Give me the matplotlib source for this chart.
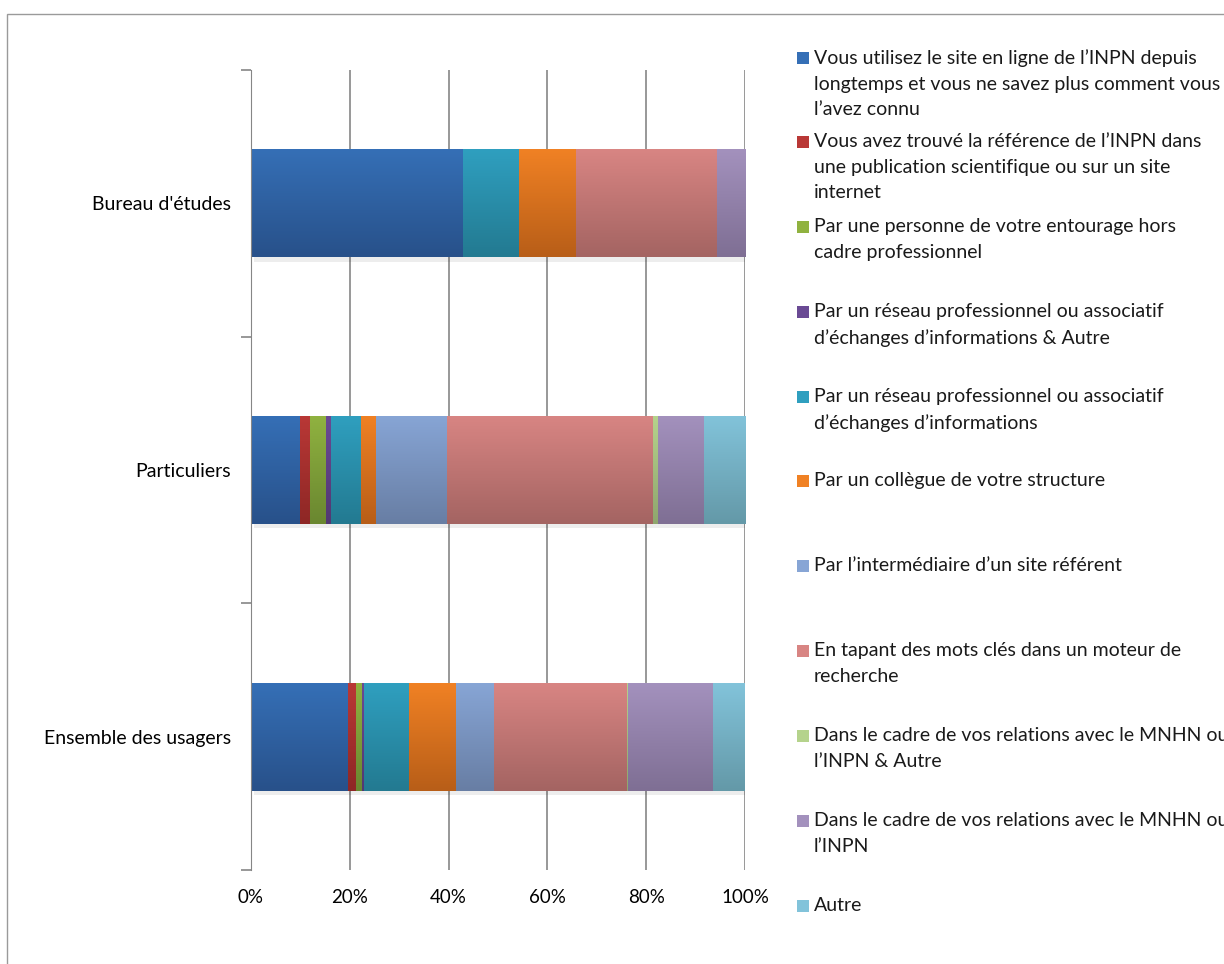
import numpy as np
import matplotlib.pyplot as plt
from matplotlib.colors import LinearSegmentedColormap
from matplotlib.patches import Rectangle
import matplotlib.patheffects as pe

#%% data
categories = ["Ensemble des usagers", "Particuliers", "Bureau d'études"]
series = [
    "Vous utilisez le site en ligne de l’INPN depuis\nlongtemps et vous ne savez plus comment vous\nl’avez connu",
    "Vous avez trouvé la référence de l’INPN dans\nune publication scientifique ou sur un site\ninternet",
    "Par une personne de votre entourage hors\ncadre professionnel",
    "Par un réseau professionnel ou associatif\nd’échanges d’informations & Autre",
    "Par un réseau professionnel ou associatif\nd’échanges d’informations",
    "Par un collègue de votre structure",
    "Par l’intermédiaire d’un site référent",
    "En tapant des mots clés dans un moteur de\nrecherche",
    "Dans le cadre de vos relations avec le MNHN ou\nl’INPN & Autre",
    "Dans le cadre de vos relations avec le MNHN ou\nl’INPN",
    "Autre",
]
# percentages per category (same order as categories), one list per series
ensemble = [19.6, 1.6, 1.3, 0.4, 9.1, 9.5, 7.6, 27.1, 0.2, 17.2, 6.4]
particuliers = [9.9, 2.1, 3.2, 1.0, 6.1, 3.0, 14.4, 41.7, 1.0, 9.3, 8.3]
bureau = [42.9, 0, 0, 0, 11.4, 11.4, 0, 28.6, 0, 5.7, 0]
xticks = [0, 20, 40, 60, 80, 100]

# gradient colours (top, bottom)
col_top = ["#356FB6", "#B93836", "#90B240", "#6A4A94", "#2F9FBF", "#F08124",
           "#87A5D5", "#D88583", "#B5D38C", "#A391BD", "#82C3DA"]
col_bot = ["#28518A", "#8E2725", "#6A8730", "#523872", "#237A91", "#B85E18",
           "#687EA4", "#A46462", "#8FA66E", "#7F6F94", "#6499A8"]

#%% figure
fig = plt.figure(figsize=(12.24, 9.64), dpi=100)
plt.rcParams['font.family'] = ['Lato', 'DejaVu Sans']

# outer frame
fig.patches.append(Rectangle((7/1224, -0.01), 1.1, 1 - 14/964 + 0.01,
                             transform=fig.transFigure, fill=False,
                             edgecolor="#9a9a9a", linewidth=1))

ax = fig.add_axes([251/1224, 1 - 870/964, 494/1224, 800/964])

data = np.array([ensemble, particuliers, bureau])
y = np.arange(len(categories))
left = np.zeros(len(categories))
h = 0.405
for i in range(len(series)):
    vals = data[:, i]
    bars = ax.barh(y, vals, left=left, height=h, color=col_top[i],
                   linewidth=0, zorder=3,
                   path_effects=[pe.SimplePatchShadow(offset=(2, -3), shadow_rgbFace="#000000", alpha=0.07),
                                 pe.Normal()])
    cmap = LinearSegmentedColormap.from_list("g%d" % i, [col_bot[i], col_top[i]])
    grad = np.linspace(0, 1, 64).reshape(-1, 1)
    for b, v in zip(bars, vals):
        if v <= 0:
            continue
        x0, y0 = b.get_x(), b.get_y()
        im = ax.imshow(grad, cmap=cmap, origin="lower", aspect="auto",
                       extent=[x0, x0 + b.get_width(), y0, y0 + b.get_height()],
                       zorder=4)
        im.set_clip_path(b)
    left = left + vals

ax.set_xlim(0, 100)
ax.set_ylim(-0.5, 2.5)
ax.set_aspect("auto")

for s in ["top", "right", "bottom"]:
    ax.spines[s].set_visible(False)
ax.spines["left"].set_color("#868686")
ax.spines["left"].set_zorder(5)

ax.set_xticks(xticks)
ax.set_xticklabels([f"{t}%" for t in xticks], fontsize=13.5)
ax.tick_params(axis="x", length=0, pad=14)
ax.xaxis.grid(True, color="#868686", linewidth=1.2, zorder=0)

ax.set_yticks(y)
ax.set_yticklabels(categories, fontsize=14)
ax.set_yticks([-0.5, 0.5, 1.5, 2.5], minor=True)
ax.tick_params(axis="y", which="major", length=0, pad=14.5)
ax.tick_params(axis="y", which="minor", length=7, color="#868686", width=1.2)

#%% legend drawn by hand (marker centres in pixels from top)
legend_y = [58, 142, 227, 312, 397, 481, 566, 651, 736, 821, 906]
for i, lab in enumerate(series):
    ty = legend_y[i]
    fig.patches.append(Rectangle((797/1224, 1 - (ty + 6)/964), 12/1224, 12/964,
                                 transform=fig.transFigure,
                                 facecolor=col_top[i], edgecolor="none"))
    fig.text(814/1224, 1 - (ty - 9)/964, lab, fontsize=14, va="top", ha="left",
             linespacing=1.62, color="#1a1a1a")

fig.savefig("out.png", dpi=100)
